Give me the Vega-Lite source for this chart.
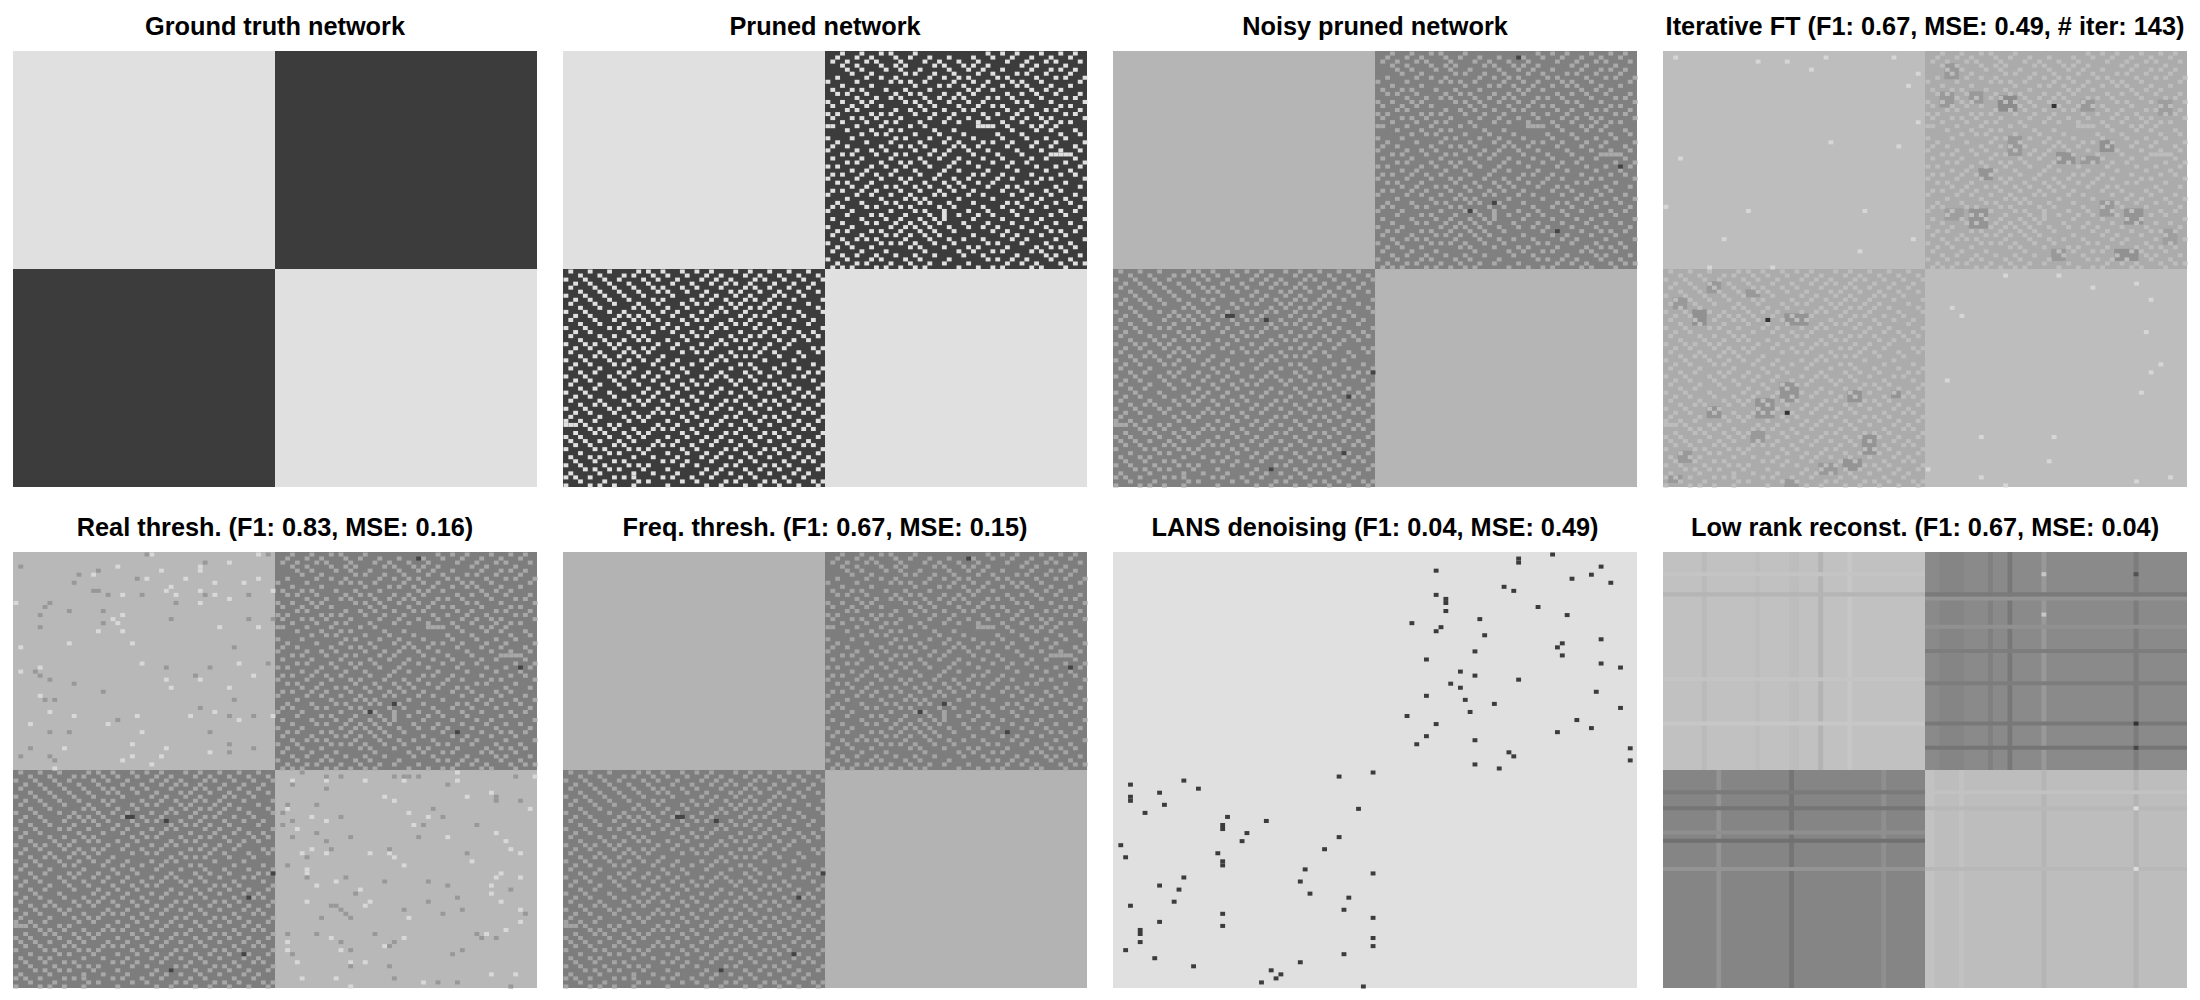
{"$schema":"https://vega.github.io/schema/vega-lite/v6.json","background":"white","padding":{"left":13,"top":14,"right":0,"bottom":0},"columns":4,"spacing":{"column":25,"row":27},"config":{"view":{"stroke":null},"title":{"font":"Liberation Sans","fontSize":25.3,"fontWeight":"bold","color":"#000000","anchor":"middle","offset":11}},
"datasets":{
"spots":[{"r":1,"c":83},{"r":28,"c":104},{"r":37,"c":78},{"r":39,"c":73},{"r":44,"c":91},{"r":65,"c":23},{"r":65,"c":24},{"r":66,"c":31},{"r":79,"c":53},{"r":85,"c":48},{"r":99,"c":47},{"r":103,"c":32}],
"lans":[{"c":83,"r":1},{"c":83,"r":2},{"c":90,"r":0},{"c":66,"r":4},{"c":100,"r":3},{"c":98,"r":5},{"c":94,"r":6},{"c":102,"r":7},{"c":80,"r":8},{"c":82,"r":9},{"c":66,"r":10},{"c":68,"r":11},{"c":68,"r":12},{"c":68,"r":14},{"c":87,"r":13},{"c":93,"r":15},{"c":75,"r":16},{"c":61,"r":17},{"c":67,"r":18},{"c":66,"r":19},{"c":76,"r":20},{"c":100,"r":21},{"c":92,"r":22},{"c":91,"r":23},{"c":74,"r":24},{"c":92,"r":25},{"c":64,"r":26},{"c":100,"r":27},{"c":104,"r":28},{"c":71,"r":29},{"c":74,"r":30},{"c":83,"r":31},{"c":69,"r":32},{"c":71,"r":33},{"c":99,"r":34},{"c":64,"r":35},{"c":72,"r":36},{"c":78,"r":37},{"c":104,"r":38},{"c":73,"r":39},{"c":60,"r":40},{"c":95,"r":41},{"c":66,"r":42},{"c":98,"r":43},{"c":91,"r":44},{"c":64,"r":45},{"c":74,"r":46},{"c":62,"r":47},{"c":106,"r":48},{"c":81,"r":49},{"c":82,"r":50},{"c":106,"r":51},{"c":74,"r":52},{"c":79,"r":53},{"c":53,"r":54},{"c":46,"r":55},{"c":14,"r":56},{"c":3,"r":57},{"c":17,"r":58},{"c":9,"r":59},{"c":3,"r":60},{"c":3,"r":61},{"c":10,"r":62},{"c":50,"r":63},{"c":6,"r":64},{"c":23,"r":65},{"c":31,"r":66},{"c":22,"r":67},{"c":22,"r":68},{"c":27,"r":69},{"c":46,"r":70},{"c":26,"r":71},{"c":1,"r":72},{"c":43,"r":73},{"c":21,"r":74},{"c":2,"r":75},{"c":22,"r":76},{"c":22,"r":77},{"c":39,"r":78},{"c":53,"r":79},{"c":14,"r":80},{"c":38,"r":81},{"c":9,"r":82},{"c":13,"r":83},{"c":40,"r":84},{"c":48,"r":85},{"c":12,"r":86},{"c":3,"r":87},{"c":47,"r":88},{"c":22,"r":89},{"c":53,"r":90},{"c":9,"r":91},{"c":22,"r":92},{"c":5,"r":93},{"c":5,"r":94},{"c":53,"r":95},{"c":5,"r":96},{"c":53,"r":97},{"c":2,"r":98},{"c":47,"r":99},{"c":8,"r":100},{"c":38,"r":101},{"c":16,"r":102},{"c":32,"r":103},{"c":34,"r":104},{"c":33,"r":105},{"c":30,"r":106},{"c":51,"r":107}],
"realLight":[{"r":0,"c":28},{"r":0,"c":50},{"r":2,"c":44},{"r":3,"c":21},{"r":3,"c":38},{"r":4,"c":30},{"r":4,"c":38},{"r":5,"c":16},{"r":6,"c":27},{"r":6,"c":35},{"r":6,"c":50},{"r":7,"c":41},{"r":7,"c":47},{"r":8,"c":32},{"r":9,"c":31},{"r":9,"c":38},{"r":9,"c":53},{"r":10,"c":22},{"r":10,"c":33},{"r":10,"c":41},{"r":11,"c":44},{"r":12,"c":38},{"r":12,"c":0},{"r":15,"c":22},{"r":16,"c":20},{"r":17,"c":21},{"r":18,"c":42},{"r":18,"c":50},{"r":19,"c":22},{"r":19,"c":17},{"r":22,"c":11},{"r":22,"c":24},{"r":23,"c":1},{"r":27,"c":26},{"r":27,"c":46},{"r":28,"c":5},{"r":29,"c":1},{"r":30,"c":49},{"r":31,"c":31},{"r":31,"c":38},{"r":33,"c":32},{"r":33,"c":44},{"r":35,"c":5},{"r":39,"c":7},{"r":39,"c":41},{"r":40,"c":12},{"r":40,"c":25},{"r":40,"c":36},{"r":40,"c":53},{"r":41,"c":46},{"r":42,"c":3},{"r":42,"c":19},{"r":44,"c":26},{"r":47,"c":24},{"r":48,"c":10},{"r":48,"c":31},{"r":49,"c":40},{"r":50,"c":24},{"r":50,"c":30},{"r":51,"c":22},{"r":52,"c":28},{"r":53,"c":8},{"r":54,"c":91},{"r":55,"c":107},{"r":56,"c":57},{"r":56,"c":64},{"r":56,"c":72},{"r":56,"c":80},{"r":56,"c":91},{"r":59,"c":98},{"r":60,"c":76},{"r":60,"c":93},{"r":61,"c":78},{"r":63,"c":56},{"r":63,"c":106},{"r":64,"c":81},{"r":65,"c":61},{"r":65,"c":85},{"r":66,"c":64},{"r":67,"c":82},{"r":68,"c":58},{"r":69,"c":99},{"r":70,"c":89},{"r":71,"c":101},{"r":73,"c":61},{"r":73,"c":102},{"r":74,"c":59},{"r":74,"c":64},{"r":74,"c":73},{"r":74,"c":77},{"r":74,"c":104},{"r":75,"c":78},{"r":76,"c":94},{"r":77,"c":80},{"r":78,"c":60},{"r":79,"c":60},{"r":79,"c":100},{"r":80,"c":99},{"r":80,"c":104},{"r":81,"c":66},{"r":82,"c":62},{"r":82,"c":98},{"r":83,"c":71},{"r":84,"c":98},{"r":86,"c":60},{"r":86,"c":73},{"r":86,"c":100},{"r":87,"c":72},{"r":88,"c":104},{"r":90,"c":81},{"r":91,"c":104},{"r":93,"c":101},{"r":94,"c":97},{"r":95,"c":65},{"r":95,"c":80},{"r":96,"c":56},{"r":97,"c":76},{"r":98,"c":56},{"r":98,"c":67},{"r":101,"c":58},{"r":101,"c":69},{"r":101,"c":72},{"r":104,"c":98},{"r":104,"c":103},{"r":105,"c":59},{"r":105,"c":66},{"r":106,"c":84},{"r":107,"c":69}],
"realDark":[{"r":0,"c":27},{"r":0,"c":52},{"r":2,"c":39},{"r":3,"c":1},{"r":4,"c":17},{"r":5,"c":13},{"r":6,"c":25},{"r":7,"c":12},{"r":9,"c":16},{"r":9,"c":17},{"r":10,"c":19},{"r":10,"c":26},{"r":10,"c":39},{"r":10,"c":48},{"r":12,"c":33},{"r":12,"c":7},{"r":13,"c":6},{"r":14,"c":11},{"r":14,"c":18},{"r":15,"c":5},{"r":16,"c":32},{"r":16,"c":48},{"r":16,"c":53},{"r":17,"c":18},{"r":18,"c":5},{"r":23,"c":45},{"r":27,"c":52},{"r":28,"c":31},{"r":28,"c":40},{"r":29,"c":4},{"r":30,"c":5},{"r":30,"c":37},{"r":31,"c":7},{"r":32,"c":12},{"r":34,"c":18},{"r":36,"c":6},{"r":36,"c":8},{"r":36,"c":45},{"r":38,"c":38},{"r":40,"c":44},{"r":40,"c":49},{"r":41,"c":21},{"r":44,"c":7},{"r":44,"c":11},{"r":44,"c":40},{"r":47,"c":44},{"r":48,"c":3},{"r":48,"c":49},{"r":49,"c":44},{"r":50,"c":1},{"r":50,"c":7},{"r":51,"c":8},{"r":54,"c":59},{"r":55,"c":64},{"r":55,"c":67},{"r":55,"c":78},{"r":55,"c":80},{"r":55,"c":81},{"r":55,"c":83},{"r":55,"c":103},{"r":57,"c":89},{"r":57,"c":57},{"r":58,"c":64},{"r":60,"c":99},{"r":61,"c":99},{"r":61,"c":104},{"r":62,"c":56},{"r":62,"c":62},{"r":63,"c":86},{"r":64,"c":55},{"r":65,"c":67},{"r":65,"c":88},{"r":66,"c":57},{"r":67,"c":55},{"r":67,"c":84},{"r":67,"c":95},{"r":69,"c":62},{"r":70,"c":57},{"r":70,"c":69},{"r":70,"c":83},{"r":71,"c":64},{"r":73,"c":65},{"r":73,"c":77},{"r":74,"c":93},{"r":75,"c":60},{"r":77,"c":56},{"r":80,"c":60},{"r":80,"c":68},{"r":81,"c":76},{"r":81,"c":85},{"r":82,"c":89},{"r":83,"c":102},{"r":84,"c":70},{"r":85,"c":91},{"r":86,"c":85},{"r":87,"c":65},{"r":87,"c":66},{"r":88,"c":67},{"r":88,"c":80},{"r":88,"c":92},{"r":89,"c":68},{"r":89,"c":88},{"r":89,"c":105},{"r":90,"c":63},{"r":90,"c":69},{"r":94,"c":56},{"r":94,"c":62},{"r":94,"c":74},{"r":94,"c":95},{"r":95,"c":96},{"r":95,"c":99},{"r":96,"c":67},{"r":96,"c":78},{"r":97,"c":77},{"r":98,"c":69},{"r":98,"c":92},{"r":99,"c":57},{"r":99,"c":90},{"r":102,"c":69},{"r":102,"c":77},{"r":105,"c":78},{"r":106,"c":87},{"r":106,"c":91},{"r":107,"c":102}],
"iterLight":[{"r":1,"c":2},{"r":1,"c":33},{"r":1,"c":47},{"r":2,"c":19},{"r":2,"c":25},{"r":4,"c":30},{"r":5,"c":52},{"r":8,"c":50},{"r":17,"c":52},{"r":22,"c":34},{"r":23,"c":48},{"r":26,"c":3},{"r":38,"c":0},{"r":39,"c":17},{"r":39,"c":41},{"r":46,"c":12},{"r":46,"c":51},{"r":49,"c":40},{"r":53,"c":9},{"r":53,"c":22},{"r":55,"c":70},{"r":55,"c":81},{"r":58,"c":88},{"r":57,"c":97},{"r":61,"c":100},{"r":63,"c":59},{"r":65,"c":61},{"r":69,"c":99},{"r":77,"c":102},{"r":79,"c":100},{"r":81,"c":58},{"r":84,"c":98},{"r":95,"c":65},{"r":95,"c":80},{"r":101,"c":79},{"r":103,"c":54},{"r":105,"c":104},{"r":105,"c":65},{"r":106,"c":97},{"r":107,"c":70}],
"iterDark":[{"r":66,"c":21},{"r":89,"c":25},{"r":13,"c":80}],
"lightCells":[{"r":0,"c":57},{"r":0,"c":61},{"r":0,"c":65},{"r":0,"c":67},{"r":0,"c":72},{"r":0,"c":87},{"r":0,"c":90},{"r":0,"c":93},{"r":0,"c":98},{"r":0,"c":102},{"r":0,"c":105},{"r":1,"c":56},{"r":1,"c":60},{"r":1,"c":63},{"r":1,"c":68},{"r":1,"c":71},{"r":1,"c":75},{"r":1,"c":79},{"r":1,"c":84},{"r":1,"c":88},{"r":1,"c":92},{"r":1,"c":96},{"r":1,"c":100},{"r":1,"c":104},{"r":2,"c":55},{"r":2,"c":58},{"r":2,"c":62},{"r":2,"c":64},{"r":2,"c":69},{"r":2,"c":74},{"r":2,"c":77},{"r":2,"c":81},{"r":2,"c":85},{"r":2,"c":91},{"r":2,"c":95},{"r":2,"c":99},{"r":2,"c":101},{"r":2,"c":106},{"r":3,"c":57},{"r":3,"c":60},{"r":3,"c":65},{"r":3,"c":68},{"r":3,"c":70},{"r":3,"c":76},{"r":3,"c":78},{"r":3,"c":82},{"r":3,"c":84},{"r":3,"c":87},{"r":3,"c":94},{"r":3,"c":97},{"r":3,"c":103},{"r":4,"c":58},{"r":4,"c":61},{"r":4,"c":66},{"r":4,"c":69},{"r":4,"c":73},{"r":4,"c":79},{"r":4,"c":83},{"r":4,"c":86},{"r":4,"c":90},{"r":4,"c":96},{"r":4,"c":100},{"r":4,"c":102},{"r":4,"c":105},{"r":5,"c":59},{"r":5,"c":63},{"r":5,"c":70},{"r":5,"c":72},{"r":5,"c":76},{"r":5,"c":80},{"r":5,"c":85},{"r":5,"c":88},{"r":5,"c":93},{"r":5,"c":95},{"r":5,"c":99},{"r":5,"c":104},{"r":6,"c":56},{"r":6,"c":62},{"r":6,"c":65},{"r":6,"c":68},{"r":6,"c":75},{"r":6,"c":78},{"r":6,"c":81},{"r":6,"c":83},{"r":6,"c":89},{"r":6,"c":91},{"r":6,"c":97},{"r":6,"c":101},{"r":6,"c":103},{"r":6,"c":107},{"r":7,"c":54},{"r":7,"c":60},{"r":7,"c":67},{"r":7,"c":69},{"r":7,"c":71},{"r":7,"c":74},{"r":7,"c":80},{"r":7,"c":84},{"r":7,"c":87},{"r":7,"c":92},{"r":7,"c":94},{"r":7,"c":98},{"r":7,"c":106},{"r":8,"c":57},{"r":8,"c":63},{"r":8,"c":72},{"r":8,"c":77},{"r":8,"c":79},{"r":8,"c":82},{"r":8,"c":86},{"r":8,"c":90},{"r":8,"c":93},{"r":8,"c":95},{"r":8,"c":100},{"r":8,"c":104},{"r":9,"c":55},{"r":9,"c":59},{"r":9,"c":61},{"r":9,"c":66},{"r":9,"c":70},{"r":9,"c":75},{"r":9,"c":83},{"r":9,"c":85},{"r":9,"c":88},{"r":9,"c":96},{"r":9,"c":99},{"r":9,"c":102},{"r":10,"c":56},{"r":10,"c":58},{"r":10,"c":62},{"r":10,"c":68},{"r":10,"c":71},{"r":10,"c":73},{"r":10,"c":78},{"r":10,"c":81},{"r":10,"c":84},{"r":10,"c":91},{"r":10,"c":94},{"r":10,"c":97},{"r":10,"c":101},{"r":10,"c":106},{"r":11,"c":60},{"r":11,"c":64},{"r":11,"c":67},{"r":11,"c":69},{"r":11,"c":74},{"r":11,"c":77},{"r":11,"c":80},{"r":11,"c":82},{"r":11,"c":87},{"r":11,"c":89},{"r":11,"c":92},{"r":11,"c":98},{"r":11,"c":103},{"r":11,"c":105},{"r":12,"c":54},{"r":12,"c":57},{"r":12,"c":61},{"r":12,"c":63},{"r":12,"c":70},{"r":12,"c":72},{"r":12,"c":75},{"r":12,"c":79},{"r":12,"c":83},{"r":12,"c":86},{"r":12,"c":93},{"r":12,"c":95},{"r":12,"c":100},{"r":12,"c":107},{"r":13,"c":55},{"r":13,"c":59},{"r":13,"c":62},{"r":13,"c":65},{"r":13,"c":73},{"r":13,"c":76},{"r":13,"c":81},{"r":13,"c":85},{"r":13,"c":88},{"r":13,"c":90},{"r":13,"c":96},{"r":13,"c":102},{"r":13,"c":104},{"r":14,"c":58},{"r":14,"c":60},{"r":14,"c":68},{"r":14,"c":71},{"r":14,"c":74},{"r":14,"c":78},{"r":14,"c":82},{"r":14,"c":84},{"r":14,"c":91},{"r":14,"c":94},{"r":14,"c":99},{"r":14,"c":101},{"r":14,"c":106},{"r":15,"c":54},{"r":15,"c":56},{"r":15,"c":63},{"r":15,"c":65},{"r":15,"c":67},{"r":15,"c":72},{"r":15,"c":76},{"r":15,"c":80},{"r":15,"c":86},{"r":15,"c":89},{"r":15,"c":93},{"r":15,"c":97},{"r":15,"c":103},{"r":15,"c":105},{"r":16,"c":55},{"r":16,"c":59},{"r":16,"c":61},{"r":16,"c":64},{"r":16,"c":69},{"r":16,"c":75},{"r":16,"c":79},{"r":16,"c":83},{"r":16,"c":87},{"r":16,"c":92},{"r":16,"c":95},{"r":16,"c":98},{"r":16,"c":100},{"r":16,"c":107},{"r":17,"c":57},{"r":17,"c":62},{"r":17,"c":66},{"r":17,"c":68},{"r":17,"c":73},{"r":17,"c":78},{"r":17,"c":81},{"r":17,"c":85},{"r":17,"c":90},{"r":17,"c":94},{"r":17,"c":99},{"r":17,"c":102},{"r":17,"c":104},{"r":18,"c":54},{"r":18,"c":55},{"r":18,"c":60},{"r":18,"c":65},{"r":18,"c":71},{"r":18,"c":74},{"r":18,"c":85},{"r":18,"c":86},{"r":18,"c":87},{"r":18,"c":88},{"r":18,"c":91},{"r":18,"c":96},{"r":18,"c":98},{"r":18,"c":101},{"r":19,"c":58},{"r":19,"c":63},{"r":19,"c":67},{"r":19,"c":69},{"r":19,"c":76},{"r":19,"c":80},{"r":19,"c":92},{"r":19,"c":97},{"r":19,"c":100},{"r":19,"c":105},{"r":20,"c":61},{"r":20,"c":64},{"r":20,"c":66},{"r":20,"c":72},{"r":20,"c":77},{"r":20,"c":82},{"r":20,"c":89},{"r":20,"c":94},{"r":20,"c":102},{"r":20,"c":106},{"r":21,"c":54},{"r":21,"c":59},{"r":21,"c":68},{"r":21,"c":70},{"r":21,"c":75},{"r":21,"c":79},{"r":21,"c":84},{"r":21,"c":90},{"r":21,"c":95},{"r":21,"c":99},{"r":21,"c":103},{"r":22,"c":56},{"r":22,"c":62},{"r":22,"c":67},{"r":22,"c":73},{"r":22,"c":78},{"r":22,"c":81},{"r":22,"c":86},{"r":22,"c":88},{"r":22,"c":92},{"r":22,"c":97},{"r":22,"c":101},{"r":22,"c":107},{"r":23,"c":55},{"r":23,"c":58},{"r":23,"c":65},{"r":23,"c":69},{"r":23,"c":71},{"r":23,"c":74},{"r":23,"c":80},{"r":23,"c":82},{"r":23,"c":85},{"r":23,"c":91},{"r":23,"c":96},{"r":23,"c":100},{"r":23,"c":105},{"r":24,"c":54},{"r":24,"c":60},{"r":24,"c":63},{"r":24,"c":66},{"r":24,"c":72},{"r":24,"c":76},{"r":24,"c":79},{"r":24,"c":83},{"r":24,"c":87},{"r":24,"c":93},{"r":24,"c":98},{"r":24,"c":102},{"r":24,"c":106},{"r":25,"c":57},{"r":25,"c":59},{"r":25,"c":64},{"r":25,"c":68},{"r":25,"c":70},{"r":25,"c":75},{"r":25,"c":78},{"r":25,"c":84},{"r":25,"c":89},{"r":25,"c":94},{"r":25,"c":100},{"r":25,"c":101},{"r":25,"c":102},{"r":25,"c":103},{"r":25,"c":104},{"r":26,"c":55},{"r":26,"c":61},{"r":26,"c":67},{"r":26,"c":73},{"r":26,"c":77},{"r":26,"c":81},{"r":26,"c":86},{"r":26,"c":90},{"r":26,"c":96},{"r":26,"c":99},{"r":26,"c":105},{"r":27,"c":58},{"r":27,"c":60},{"r":27,"c":65},{"r":27,"c":69},{"r":27,"c":71},{"r":27,"c":74},{"r":27,"c":80},{"r":27,"c":83},{"r":27,"c":88},{"r":27,"c":92},{"r":27,"c":95},{"r":27,"c":103},{"r":27,"c":107},{"r":28,"c":54},{"r":28,"c":56},{"r":28,"c":63},{"r":28,"c":66},{"r":28,"c":70},{"r":28,"c":75},{"r":28,"c":79},{"r":28,"c":85},{"r":28,"c":91},{"r":28,"c":97},{"r":28,"c":101},{"r":28,"c":106},{"r":29,"c":59},{"r":29,"c":62},{"r":29,"c":68},{"r":29,"c":72},{"r":29,"c":78},{"r":29,"c":81},{"r":29,"c":87},{"r":29,"c":93},{"r":29,"c":99},{"r":29,"c":104},{"r":30,"c":55},{"r":30,"c":57},{"r":30,"c":61},{"r":30,"c":64},{"r":30,"c":67},{"r":30,"c":73},{"r":30,"c":77},{"r":30,"c":84},{"r":30,"c":86},{"r":30,"c":90},{"r":30,"c":96},{"r":30,"c":102},{"r":30,"c":105},{"r":31,"c":54},{"r":31,"c":60},{"r":31,"c":65},{"r":31,"c":69},{"r":31,"c":71},{"r":31,"c":76},{"r":31,"c":80},{"r":31,"c":83},{"r":31,"c":89},{"r":31,"c":92},{"r":31,"c":98},{"r":31,"c":100},{"r":31,"c":107},{"r":32,"c":56},{"r":32,"c":58},{"r":32,"c":63},{"r":32,"c":70},{"r":32,"c":74},{"r":32,"c":78},{"r":32,"c":81},{"r":32,"c":85},{"r":32,"c":88},{"r":32,"c":95},{"r":32,"c":97},{"r":32,"c":103},{"r":33,"c":59},{"r":33,"c":62},{"r":33,"c":66},{"r":33,"c":68},{"r":33,"c":72},{"r":33,"c":75},{"r":33,"c":79},{"r":33,"c":82},{"r":33,"c":87},{"r":33,"c":91},{"r":33,"c":93},{"r":33,"c":101},{"r":33,"c":106},{"r":34,"c":55},{"r":34,"c":57},{"r":34,"c":61},{"r":34,"c":64},{"r":34,"c":69},{"r":34,"c":73},{"r":34,"c":77},{"r":34,"c":80},{"r":34,"c":84},{"r":34,"c":90},{"r":34,"c":94},{"r":34,"c":99},{"r":34,"c":102},{"r":35,"c":54},{"r":35,"c":60},{"r":35,"c":63},{"r":35,"c":67},{"r":35,"c":71},{"r":35,"c":76},{"r":35,"c":78},{"r":35,"c":83},{"r":35,"c":86},{"r":35,"c":92},{"r":35,"c":96},{"r":35,"c":100},{"r":35,"c":105},{"r":36,"c":58},{"r":36,"c":65},{"r":36,"c":70},{"r":36,"c":72},{"r":36,"c":74},{"r":36,"c":81},{"r":36,"c":88},{"r":36,"c":95},{"r":36,"c":98},{"r":36,"c":103},{"r":36,"c":107},{"r":37,"c":56},{"r":37,"c":61},{"r":37,"c":66},{"r":37,"c":68},{"r":37,"c":73},{"r":37,"c":75},{"r":37,"c":79},{"r":37,"c":84},{"r":37,"c":91},{"r":37,"c":93},{"r":37,"c":97},{"r":37,"c":101},{"r":37,"c":104},{"r":38,"c":55},{"r":38,"c":57},{"r":38,"c":62},{"r":38,"c":64},{"r":38,"c":69},{"r":38,"c":71},{"r":38,"c":77},{"r":38,"c":80},{"r":38,"c":86},{"r":38,"c":90},{"r":38,"c":94},{"r":38,"c":99},{"r":38,"c":106},{"r":39,"c":54},{"r":39,"c":59},{"r":39,"c":67},{"r":39,"c":72},{"r":39,"c":74},{"r":39,"c":78},{"r":39,"c":83},{"r":39,"c":87},{"r":39,"c":92},{"r":39,"c":96},{"r":39,"c":102},{"r":39,"c":105},{"r":40,"c":58},{"r":40,"c":63},{"r":40,"c":65},{"r":40,"c":70},{"r":40,"c":75},{"r":40,"c":78},{"r":40,"c":81},{"r":40,"c":85},{"r":40,"c":88},{"r":40,"c":93},{"r":40,"c":100},{"r":40,"c":103},{"r":41,"c":55},{"r":41,"c":61},{"r":41,"c":66},{"r":41,"c":69},{"r":41,"c":73},{"r":41,"c":76},{"r":41,"c":78},{"r":41,"c":84},{"r":41,"c":90},{"r":41,"c":95},{"r":41,"c":98},{"r":41,"c":107},{"r":42,"c":57},{"r":42,"c":62},{"r":42,"c":64},{"r":42,"c":68},{"r":42,"c":71},{"r":42,"c":74},{"r":42,"c":77},{"r":42,"c":82},{"r":42,"c":87},{"r":42,"c":92},{"r":42,"c":97},{"r":42,"c":101},{"r":42,"c":104},{"r":43,"c":54},{"r":43,"c":59},{"r":43,"c":67},{"r":43,"c":70},{"r":43,"c":72},{"r":43,"c":75},{"r":43,"c":79},{"r":43,"c":83},{"r":43,"c":86},{"r":43,"c":89},{"r":43,"c":94},{"r":43,"c":99},{"r":43,"c":106},{"r":44,"c":56},{"r":44,"c":58},{"r":44,"c":63},{"r":44,"c":65},{"r":44,"c":69},{"r":44,"c":73},{"r":44,"c":76},{"r":44,"c":80},{"r":44,"c":88},{"r":44,"c":91},{"r":44,"c":96},{"r":44,"c":100},{"r":44,"c":102},{"r":44,"c":105},{"r":45,"c":55},{"r":45,"c":61},{"r":45,"c":66},{"r":45,"c":68},{"r":45,"c":71},{"r":45,"c":74},{"r":45,"c":77},{"r":45,"c":84},{"r":45,"c":90},{"r":45,"c":93},{"r":45,"c":98},{"r":45,"c":103},{"r":46,"c":57},{"r":46,"c":60},{"r":46,"c":62},{"r":46,"c":64},{"r":46,"c":70},{"r":46,"c":75},{"r":46,"c":79},{"r":46,"c":82},{"r":46,"c":86},{"r":46,"c":92},{"r":46,"c":95},{"r":46,"c":101},{"r":46,"c":107},{"r":47,"c":54},{"r":47,"c":58},{"r":47,"c":65},{"r":47,"c":67},{"r":47,"c":69},{"r":47,"c":72},{"r":47,"c":76},{"r":47,"c":80},{"r":47,"c":87},{"r":47,"c":89},{"r":47,"c":94},{"r":47,"c":99},{"r":47,"c":104},{"r":48,"c":56},{"r":48,"c":59},{"r":48,"c":63},{"r":48,"c":71},{"r":48,"c":73},{"r":48,"c":78},{"r":48,"c":83},{"r":48,"c":85},{"r":48,"c":91},{"r":48,"c":97},{"r":48,"c":100},{"r":48,"c":102},{"r":48,"c":105},{"r":49,"c":55},{"r":49,"c":61},{"r":49,"c":66},{"r":49,"c":74},{"r":49,"c":81},{"r":49,"c":84},{"r":49,"c":88},{"r":49,"c":90},{"r":49,"c":96},{"r":49,"c":98},{"r":49,"c":103},{"r":50,"c":57},{"r":50,"c":60},{"r":50,"c":64},{"r":50,"c":68},{"r":50,"c":72},{"r":50,"c":76},{"r":50,"c":82},{"r":50,"c":86},{"r":50,"c":93},{"r":50,"c":99},{"r":50,"c":101},{"r":50,"c":106},{"r":51,"c":54},{"r":51,"c":58},{"r":51,"c":63},{"r":51,"c":65},{"r":51,"c":70},{"r":51,"c":73},{"r":51,"c":79},{"r":51,"c":87},{"r":51,"c":89},{"r":51,"c":92},{"r":51,"c":95},{"r":51,"c":100},{"r":51,"c":104},{"r":52,"c":56},{"r":52,"c":60},{"r":52,"c":62},{"r":52,"c":67},{"r":52,"c":71},{"r":52,"c":75},{"r":52,"c":78},{"r":52,"c":83},{"r":52,"c":91},{"r":52,"c":94},{"r":52,"c":97},{"r":52,"c":102},{"r":52,"c":105},{"r":52,"c":107},{"r":53,"c":55},{"r":53,"c":57},{"r":53,"c":59},{"r":53,"c":64},{"r":53,"c":66},{"r":53,"c":69},{"r":53,"c":72},{"r":53,"c":74},{"r":53,"c":81},{"r":53,"c":85},{"r":53,"c":88},{"r":53,"c":90},{"r":53,"c":96},{"r":53,"c":98},{"r":53,"c":103},{"r":54,"c":1},{"r":54,"c":5},{"r":54,"c":9},{"r":54,"c":15},{"r":54,"c":17},{"r":54,"c":20},{"r":54,"c":24},{"r":54,"c":27},{"r":54,"c":30},{"r":54,"c":35},{"r":54,"c":38},{"r":54,"c":42},{"r":54,"c":46},{"r":54,"c":50},{"r":55,"c":3},{"r":55,"c":7},{"r":55,"c":12},{"r":55,"c":14},{"r":55,"c":18},{"r":55,"c":21},{"r":55,"c":25},{"r":55,"c":29},{"r":55,"c":32},{"r":55,"c":37},{"r":55,"c":40},{"r":55,"c":44},{"r":55,"c":48},{"r":55,"c":52},{"r":56,"c":0},{"r":56,"c":4},{"r":56,"c":8},{"r":56,"c":11},{"r":56,"c":16},{"r":56,"c":19},{"r":56,"c":23},{"r":56,"c":28},{"r":56,"c":31},{"r":56,"c":34},{"r":56,"c":39},{"r":56,"c":41},{"r":56,"c":45},{"r":56,"c":49},{"r":56,"c":53},{"r":57,"c":2},{"r":57,"c":5},{"r":57,"c":9},{"r":57,"c":13},{"r":57,"c":17},{"r":57,"c":22},{"r":57,"c":26},{"r":57,"c":30},{"r":57,"c":33},{"r":57,"c":35},{"r":57,"c":38},{"r":57,"c":43},{"r":57,"c":47},{"r":57,"c":51},{"r":58,"c":1},{"r":58,"c":6},{"r":58,"c":10},{"r":58,"c":14},{"r":58,"c":18},{"r":58,"c":20},{"r":58,"c":24},{"r":58,"c":27},{"r":58,"c":32},{"r":58,"c":37},{"r":58,"c":39},{"r":58,"c":42},{"r":58,"c":46},{"r":58,"c":50},{"r":59,"c":3},{"r":59,"c":7},{"r":59,"c":11},{"r":59,"c":15},{"r":59,"c":19},{"r":59,"c":21},{"r":59,"c":25},{"r":59,"c":29},{"r":59,"c":34},{"r":59,"c":36},{"r":59,"c":40},{"r":59,"c":44},{"r":59,"c":48},{"r":59,"c":52},{"r":60,"c":0},{"r":60,"c":4},{"r":60,"c":8},{"r":60,"c":12},{"r":60,"c":16},{"r":60,"c":22},{"r":60,"c":28},{"r":60,"c":31},{"r":60,"c":35},{"r":60,"c":38},{"r":60,"c":43},{"r":60,"c":45},{"r":60,"c":49},{"r":61,"c":2},{"r":61,"c":5},{"r":61,"c":9},{"r":61,"c":13},{"r":61,"c":18},{"r":61,"c":20},{"r":61,"c":26},{"r":61,"c":30},{"r":61,"c":33},{"r":61,"c":37},{"r":61,"c":39},{"r":61,"c":42},{"r":61,"c":47},{"r":61,"c":53},{"r":62,"c":1},{"r":62,"c":6},{"r":62,"c":10},{"r":62,"c":15},{"r":62,"c":19},{"r":62,"c":24},{"r":62,"c":27},{"r":62,"c":29},{"r":62,"c":34},{"r":62,"c":36},{"r":62,"c":41},{"r":62,"c":44},{"r":62,"c":50},{"r":63,"c":3},{"r":63,"c":7},{"r":63,"c":14},{"r":63,"c":16},{"r":63,"c":21},{"r":63,"c":25},{"r":63,"c":32},{"r":63,"c":35},{"r":63,"c":38},{"r":63,"c":40},{"r":63,"c":43},{"r":63,"c":46},{"r":63,"c":52},{"r":64,"c":0},{"r":64,"c":4},{"r":64,"c":9},{"r":64,"c":12},{"r":64,"c":17},{"r":64,"c":20},{"r":64,"c":23},{"r":64,"c":28},{"r":64,"c":31},{"r":64,"c":33},{"r":64,"c":37},{"r":64,"c":42},{"r":64,"c":48},{"r":64,"c":53},{"r":65,"c":2},{"r":65,"c":5},{"r":65,"c":11},{"r":65,"c":13},{"r":65,"c":15},{"r":65,"c":18},{"r":65,"c":22},{"r":65,"c":26},{"r":65,"c":30},{"r":65,"c":36},{"r":65,"c":39},{"r":65,"c":41},{"r":65,"c":45},{"r":65,"c":49},{"r":66,"c":1},{"r":66,"c":6},{"r":66,"c":10},{"r":66,"c":14},{"r":66,"c":16},{"r":66,"c":19},{"r":66,"c":24},{"r":66,"c":27},{"r":66,"c":29},{"r":66,"c":34},{"r":66,"c":38},{"r":66,"c":43},{"r":66,"c":47},{"r":66,"c":51},{"r":67,"c":3},{"r":67,"c":7},{"r":67,"c":12},{"r":67,"c":17},{"r":67,"c":21},{"r":67,"c":25},{"r":67,"c":32},{"r":67,"c":35},{"r":67,"c":37},{"r":67,"c":40},{"r":67,"c":44},{"r":67,"c":50},{"r":68,"c":0},{"r":68,"c":4},{"r":68,"c":9},{"r":68,"c":11},{"r":68,"c":15},{"r":68,"c":20},{"r":68,"c":23},{"r":68,"c":28},{"r":68,"c":31},{"r":68,"c":33},{"r":68,"c":39},{"r":68,"c":42},{"r":68,"c":46},{"r":68,"c":53},{"r":69,"c":2},{"r":69,"c":5},{"r":69,"c":13},{"r":69,"c":18},{"r":69,"c":22},{"r":69,"c":26},{"r":69,"c":30},{"r":69,"c":36},{"r":69,"c":41},{"r":69,"c":45},{"r":69,"c":48},{"r":69,"c":51},{"r":70,"c":1},{"r":70,"c":7},{"r":70,"c":10},{"r":70,"c":14},{"r":70,"c":16},{"r":70,"c":24},{"r":70,"c":27},{"r":70,"c":29},{"r":70,"c":34},{"r":70,"c":38},{"r":70,"c":40},{"r":70,"c":43},{"r":70,"c":49},{"r":70,"c":52},{"r":71,"c":3},{"r":71,"c":8},{"r":71,"c":12},{"r":71,"c":15},{"r":71,"c":17},{"r":71,"c":21},{"r":71,"c":25},{"r":71,"c":32},{"r":71,"c":35},{"r":71,"c":37},{"r":71,"c":44},{"r":71,"c":47},{"r":71,"c":50},{"r":72,"c":0},{"r":72,"c":4},{"r":72,"c":6},{"r":72,"c":9},{"r":72,"c":11},{"r":72,"c":19},{"r":72,"c":23},{"r":72,"c":28},{"r":72,"c":31},{"r":72,"c":33},{"r":72,"c":39},{"r":72,"c":42},{"r":72,"c":46},{"r":73,"c":2},{"r":73,"c":5},{"r":73,"c":10},{"r":73,"c":13},{"r":73,"c":16},{"r":73,"c":18},{"r":73,"c":22},{"r":73,"c":26},{"r":73,"c":30},{"r":73,"c":36},{"r":73,"c":38},{"r":73,"c":41},{"r":73,"c":45},{"r":73,"c":51},{"r":73,"c":53},{"r":74,"c":1},{"r":74,"c":7},{"r":74,"c":12},{"r":74,"c":14},{"r":74,"c":17},{"r":74,"c":24},{"r":74,"c":27},{"r":74,"c":29},{"r":74,"c":34},{"r":74,"c":40},{"r":74,"c":43},{"r":74,"c":48},{"r":74,"c":52},{"r":75,"c":3},{"r":75,"c":6},{"r":75,"c":8},{"r":75,"c":11},{"r":75,"c":15},{"r":75,"c":20},{"r":75,"c":32},{"r":75,"c":35},{"r":75,"c":37},{"r":75,"c":39},{"r":75,"c":44},{"r":75,"c":49},{"r":76,"c":0},{"r":76,"c":4},{"r":76,"c":9},{"r":76,"c":13},{"r":76,"c":16},{"r":76,"c":19},{"r":76,"c":23},{"r":76,"c":28},{"r":76,"c":31},{"r":76,"c":33},{"r":76,"c":41},{"r":76,"c":47},{"r":77,"c":2},{"r":77,"c":5},{"r":77,"c":10},{"r":77,"c":12},{"r":77,"c":18},{"r":77,"c":22},{"r":77,"c":26},{"r":77,"c":30},{"r":77,"c":36},{"r":77,"c":38},{"r":77,"c":45},{"r":77,"c":51},{"r":78,"c":1},{"r":78,"c":7},{"r":78,"c":14},{"r":78,"c":20},{"r":78,"c":24},{"r":78,"c":29},{"r":78,"c":34},{"r":78,"c":39},{"r":78,"c":43},{"r":78,"c":48},{"r":78,"c":53},{"r":79,"c":3},{"r":79,"c":6},{"r":79,"c":11},{"r":79,"c":13},{"r":79,"c":17},{"r":79,"c":21},{"r":79,"c":25},{"r":79,"c":32},{"r":79,"c":37},{"r":79,"c":40},{"r":79,"c":44},{"r":79,"c":50},{"r":79,"c":52},{"r":80,"c":0},{"r":80,"c":4},{"r":80,"c":9},{"r":80,"c":12},{"r":80,"c":16},{"r":80,"c":19},{"r":80,"c":23},{"r":80,"c":28},{"r":80,"c":31},{"r":80,"c":33},{"r":80,"c":38},{"r":80,"c":42},{"r":80,"c":47},{"r":80,"c":49},{"r":81,"c":2},{"r":81,"c":5},{"r":81,"c":10},{"r":81,"c":14},{"r":81,"c":18},{"r":81,"c":22},{"r":81,"c":26},{"r":81,"c":30},{"r":81,"c":34},{"r":81,"c":36},{"r":81,"c":39},{"r":81,"c":45},{"r":81,"c":51},{"r":82,"c":1},{"r":82,"c":7},{"r":82,"c":11},{"r":82,"c":15},{"r":82,"c":20},{"r":82,"c":24},{"r":82,"c":27},{"r":82,"c":29},{"r":82,"c":35},{"r":82,"c":41},{"r":82,"c":43},{"r":82,"c":46},{"r":82,"c":53},{"r":83,"c":3},{"r":83,"c":6},{"r":83,"c":12},{"r":83,"c":17},{"r":83,"c":21},{"r":83,"c":25},{"r":83,"c":32},{"r":83,"c":37},{"r":83,"c":40},{"r":83,"c":44},{"r":83,"c":48},{"r":83,"c":52},{"r":84,"c":0},{"r":84,"c":4},{"r":84,"c":9},{"r":84,"c":16},{"r":84,"c":19},{"r":84,"c":23},{"r":84,"c":28},{"r":84,"c":31},{"r":84,"c":34},{"r":84,"c":38},{"r":84,"c":42},{"r":84,"c":47},{"r":84,"c":50},{"r":85,"c":2},{"r":85,"c":5},{"r":85,"c":10},{"r":85,"c":14},{"r":85,"c":18},{"r":85,"c":22},{"r":85,"c":26},{"r":85,"c":30},{"r":85,"c":36},{"r":85,"c":39},{"r":85,"c":45},{"r":85,"c":49},{"r":85,"c":51},{"r":86,"c":1},{"r":86,"c":7},{"r":86,"c":12},{"r":86,"c":15},{"r":86,"c":17},{"r":86,"c":20},{"r":86,"c":24},{"r":86,"c":27},{"r":86,"c":33},{"r":86,"c":35},{"r":86,"c":41},{"r":86,"c":43},{"r":86,"c":46},{"r":86,"c":53},{"r":87,"c":3},{"r":87,"c":6},{"r":87,"c":8},{"r":87,"c":13},{"r":87,"c":16},{"r":87,"c":21},{"r":87,"c":25},{"r":87,"c":29},{"r":87,"c":32},{"r":87,"c":37},{"r":87,"c":40},{"r":87,"c":44},{"r":87,"c":48},{"r":87,"c":52},{"r":88,"c":0},{"r":88,"c":4},{"r":88,"c":9},{"r":88,"c":11},{"r":88,"c":19},{"r":88,"c":23},{"r":88,"c":28},{"r":88,"c":31},{"r":88,"c":34},{"r":88,"c":38},{"r":88,"c":42},{"r":88,"c":47},{"r":88,"c":50},{"r":89,"c":2},{"r":89,"c":5},{"r":89,"c":10},{"r":89,"c":14},{"r":89,"c":18},{"r":89,"c":20},{"r":89,"c":22},{"r":89,"c":26},{"r":89,"c":30},{"r":89,"c":36},{"r":89,"c":39},{"r":89,"c":45},{"r":89,"c":49},{"r":89,"c":51},{"r":90,"c":1},{"r":90,"c":7},{"r":90,"c":12},{"r":90,"c":15},{"r":90,"c":17},{"r":90,"c":24},{"r":90,"c":27},{"r":90,"c":33},{"r":90,"c":35},{"r":90,"c":41},{"r":90,"c":43},{"r":90,"c":46},{"r":90,"c":53},{"r":91,"c":0},{"r":91,"c":3},{"r":91,"c":6},{"r":91,"c":13},{"r":91,"c":16},{"r":91,"c":21},{"r":91,"c":25},{"r":91,"c":29},{"r":91,"c":32},{"r":91,"c":37},{"r":91,"c":40},{"r":91,"c":44},{"r":91,"c":48},{"r":91,"c":52},{"r":92,"c":0},{"r":92,"c":1},{"r":92,"c":2},{"r":92,"c":4},{"r":92,"c":9},{"r":92,"c":11},{"r":92,"c":19},{"r":92,"c":23},{"r":92,"c":28},{"r":92,"c":31},{"r":92,"c":34},{"r":92,"c":38},{"r":92,"c":42},{"r":92,"c":47},{"r":92,"c":50},{"r":93,"c":5},{"r":93,"c":7},{"r":93,"c":10},{"r":93,"c":14},{"r":93,"c":18},{"r":93,"c":20},{"r":93,"c":22},{"r":93,"c":26},{"r":93,"c":30},{"r":93,"c":36},{"r":93,"c":39},{"r":93,"c":45},{"r":93,"c":49},{"r":93,"c":51},{"r":94,"c":2},{"r":94,"c":6},{"r":94,"c":8},{"r":94,"c":12},{"r":94,"c":15},{"r":94,"c":17},{"r":94,"c":24},{"r":94,"c":27},{"r":94,"c":33},{"r":94,"c":35},{"r":94,"c":41},{"r":94,"c":43},{"r":94,"c":46},{"r":94,"c":53},{"r":95,"c":0},{"r":95,"c":3},{"r":95,"c":9},{"r":95,"c":13},{"r":95,"c":16},{"r":95,"c":21},{"r":95,"c":25},{"r":95,"c":29},{"r":95,"c":32},{"r":95,"c":37},{"r":95,"c":40},{"r":95,"c":44},{"r":95,"c":48},{"r":95,"c":52},{"r":96,"c":1},{"r":96,"c":4},{"r":96,"c":7},{"r":96,"c":11},{"r":96,"c":14},{"r":96,"c":19},{"r":96,"c":23},{"r":96,"c":28},{"r":96,"c":31},{"r":96,"c":34},{"r":96,"c":38},{"r":96,"c":42},{"r":96,"c":47},{"r":96,"c":50},{"r":97,"c":2},{"r":97,"c":5},{"r":97,"c":10},{"r":97,"c":12},{"r":97,"c":18},{"r":97,"c":20},{"r":97,"c":22},{"r":97,"c":26},{"r":97,"c":30},{"r":97,"c":36},{"r":97,"c":39},{"r":97,"c":45},{"r":97,"c":49},{"r":97,"c":51},{"r":98,"c":0},{"r":98,"c":6},{"r":98,"c":8},{"r":98,"c":13},{"r":98,"c":15},{"r":98,"c":17},{"r":98,"c":24},{"r":98,"c":27},{"r":98,"c":33},{"r":98,"c":35},{"r":98,"c":41},{"r":98,"c":43},{"r":98,"c":46},{"r":98,"c":53},{"r":99,"c":3},{"r":99,"c":9},{"r":99,"c":11},{"r":99,"c":16},{"r":99,"c":21},{"r":99,"c":25},{"r":99,"c":29},{"r":99,"c":32},{"r":99,"c":37},{"r":99,"c":40},{"r":99,"c":44},{"r":99,"c":48},{"r":99,"c":52},{"r":100,"c":1},{"r":100,"c":5},{"r":100,"c":7},{"r":100,"c":14},{"r":100,"c":18},{"r":100,"c":23},{"r":100,"c":28},{"r":100,"c":31},{"r":100,"c":34},{"r":100,"c":38},{"r":100,"c":42},{"r":100,"c":47},{"r":100,"c":50},{"r":101,"c":2},{"r":101,"c":6},{"r":101,"c":10},{"r":101,"c":12},{"r":101,"c":20},{"r":101,"c":22},{"r":101,"c":25},{"r":101,"c":30},{"r":101,"c":36},{"r":101,"c":39},{"r":101,"c":45},{"r":101,"c":49},{"r":101,"c":51},{"r":102,"c":0},{"r":102,"c":3},{"r":102,"c":8},{"r":102,"c":13},{"r":102,"c":15},{"r":102,"c":17},{"r":102,"c":24},{"r":102,"c":27},{"r":102,"c":33},{"r":102,"c":35},{"r":102,"c":41},{"r":102,"c":43},{"r":102,"c":46},{"r":102,"c":53},{"r":103,"c":4},{"r":103,"c":6},{"r":103,"c":9},{"r":103,"c":11},{"r":103,"c":16},{"r":103,"c":21},{"r":103,"c":29},{"r":103,"c":32},{"r":103,"c":37},{"r":103,"c":40},{"r":103,"c":44},{"r":103,"c":48},{"r":103,"c":52},{"r":104,"c":1},{"r":104,"c":7},{"r":104,"c":14},{"r":104,"c":18},{"r":104,"c":23},{"r":104,"c":28},{"r":104,"c":31},{"r":104,"c":34},{"r":104,"c":38},{"r":104,"c":42},{"r":104,"c":47},{"r":104,"c":50},{"r":105,"c":0},{"r":105,"c":2},{"r":105,"c":5},{"r":105,"c":10},{"r":105,"c":12},{"r":105,"c":14},{"r":105,"c":20},{"r":105,"c":22},{"r":105,"c":26},{"r":105,"c":30},{"r":105,"c":36},{"r":105,"c":39},{"r":105,"c":45},{"r":105,"c":49},{"r":106,"c":3},{"r":106,"c":8},{"r":106,"c":15},{"r":106,"c":17},{"r":106,"c":24},{"r":106,"c":27},{"r":106,"c":33},{"r":106,"c":35},{"r":106,"c":41},{"r":106,"c":43},{"r":106,"c":46},{"r":106,"c":51},{"r":106,"c":53},{"r":107,"c":0},{"r":107,"c":5},{"r":107,"c":7},{"r":107,"c":10},{"r":107,"c":14},{"r":107,"c":21},{"r":107,"c":29},{"r":107,"c":32},{"r":107,"c":37},{"r":107,"c":40},{"r":107,"c":44},{"r":107,"c":48},{"r":107,"c":52}]
},
"concat":[
{"title":"Ground truth network","width":524,"height":436,"layer":[
{"data":{"values":[{"x0":0,"x1":54,"y0":0,"y1":54,"v":0.878},{"x0":54,"x1":108,"y0":54,"y1":108,"v":0.878},{"x0":54,"x1":108,"y0":0,"y1":54,"v":0.235},{"x0":0,"x1":54,"y0":54,"y1":108,"v":0.235}]},"mark":"rect","encoding":{"x":{"field":"x0","type":"quantitative","scale":{"domain":[0,108],"nice":false},"axis":null},"x2":{"field":"x1"},"y":{"field":"y0","type":"quantitative","scale":{"domain":[108,0],"nice":false},"axis":null},"y2":{"field":"y1"},"color":{"field":"v","type":"quantitative","scale":{"domain":[0,1],"range":["#000000","#ffffff"],"interpolate":"rgb"},"legend":null}}}]},
{"title":"Pruned network","width":524,"height":436,"layer":[
{"data":{"values":[{"x0":0,"x1":54,"y0":0,"y1":54,"v":0.878},{"x0":54,"x1":108,"y0":54,"y1":108,"v":0.878},{"x0":54,"x1":108,"y0":0,"y1":54,"v":0.235},{"x0":0,"x1":54,"y0":54,"y1":108,"v":0.235}]},"mark":"rect","encoding":{"x":{"field":"x0","type":"quantitative","scale":{"domain":[0,108],"nice":false},"axis":null},"x2":{"field":"x1"},"y":{"field":"y0","type":"quantitative","scale":{"domain":[108,0],"nice":false},"axis":null},"y2":{"field":"y1"},"color":{"field":"v","type":"quantitative","scale":{"domain":[0,1],"range":["#000000","#ffffff"],"interpolate":"rgb"},"legend":null}}},
{"data":{"name":"lightCells"},"mark":{"type":"rect","color":"#e0e0e0"},"encoding":{"x":{"field":"c","bin":{"step":1,"extent":[0,108]},"type":"quantitative","scale":{"domain":[0,108],"nice":false},"axis":null},"y":{"field":"r","bin":{"step":1,"extent":[0,108]},"type":"quantitative","scale":{"domain":[108,0],"nice":false},"axis":null}}}]},
{"title":"Noisy pruned network","width":524,"height":436,"layer":[
{"data":{"values":[{"x0":0,"x1":54,"y0":0,"y1":54,"v":0.71},{"x0":54,"x1":108,"y0":54,"y1":108,"v":0.71},{"x0":54,"x1":108,"y0":0,"y1":54,"v":0.5},{"x0":0,"x1":54,"y0":54,"y1":108,"v":0.5}]},"mark":"rect","encoding":{"x":{"field":"x0","type":"quantitative","scale":{"domain":[0,108],"nice":false},"axis":null},"x2":{"field":"x1"},"y":{"field":"y0","type":"quantitative","scale":{"domain":[108,0],"nice":false},"axis":null},"y2":{"field":"y1"},"color":{"field":"v","type":"quantitative","scale":{"domain":[0,1],"range":["#000000","#ffffff"],"interpolate":"rgb"},"legend":null}}},
{"data":{"name":"lightCells"},"mark":{"type":"rect","color":"#aaaaaa"},"encoding":{"x":{"field":"c","bin":{"step":1,"extent":[0,108]},"type":"quantitative","scale":{"domain":[0,108],"nice":false},"axis":null},"y":{"field":"r","bin":{"step":1,"extent":[0,108]},"type":"quantitative","scale":{"domain":[108,0],"nice":false},"axis":null}}},
{"data":{"name":"spots"},"mark":{"type":"rect","color":"#444444"},"encoding":{"x":{"field":"c","bin":{"step":1,"extent":[0,108]},"type":"quantitative","scale":{"domain":[0,108],"nice":false},"axis":null},"y":{"field":"r","bin":{"step":1,"extent":[0,108]},"type":"quantitative","scale":{"domain":[108,0],"nice":false},"axis":null}}}]},
{"title":"Iterative FT (F1: 0.67, MSE: 0.49, # iter: 143)","width":524,"height":436,"layer":[
{"data":{"values":[{"x0":0,"x1":54,"y0":0,"y1":54,"v":0.74},{"x0":54,"x1":108,"y0":54,"y1":108,"v":0.74},{"x0":54,"x1":108,"y0":0,"y1":54,"v":0.67},{"x0":0,"x1":54,"y0":54,"y1":108,"v":0.67},{"x0":69,"x1":73,"y0":11,"y1":15,"v":0.55},{"x0":58,"x1":61,"y0":3,"y1":7,"v":0.6},{"x0":63,"x1":66,"y0":10,"y1":13,"v":0.6},{"x0":57,"x1":60,"y0":10,"y1":14,"v":0.6},{"x0":86,"x1":89,"y0":12,"y1":15,"v":0.6},{"x0":102,"x1":105,"y0":12,"y1":16,"v":0.62},{"x0":90,"x1":93,"y0":22,"y1":25,"v":0.57},{"x0":81,"x1":85,"y0":25,"y1":28,"v":0.58},{"x0":86,"x1":90,"y0":26,"y1":28,"v":0.6},{"x0":71,"x1":74,"y0":21,"y1":26,"v":0.6},{"x0":65,"x1":68,"y0":29,"y1":32,"v":0.58},{"x0":63,"x1":67,"y0":39,"y1":44,"v":0.58},{"x0":58,"x1":62,"y0":39,"y1":42,"v":0.62},{"x0":95,"x1":99,"y0":39,"y1":43,"v":0.58},{"x0":90,"x1":93,"y0":37,"y1":41,"v":0.6},{"x0":93,"x1":98,"y0":49,"y1":52,"v":0.57},{"x0":80,"x1":83,"y0":49,"y1":52,"v":0.6},{"x0":103,"x1":106,"y0":44,"y1":48,"v":0.62},{"x0":6,"x1":9,"y0":64,"y1":68,"v":0.57},{"x0":9,"x1":12,"y0":57,"y1":60,"v":0.6},{"x0":2,"x1":5,"y0":61,"y1":64,"v":0.6},{"x0":25,"x1":30,"y0":65,"y1":68,"v":0.58},{"x0":17,"x1":20,"y0":59,"y1":61,"v":0.6},{"x0":19,"x1":23,"y0":86,"y1":91,"v":0.58},{"x0":9,"x1":12,"y0":88,"y1":91,"v":0.58},{"x0":24,"x1":28,"y0":82,"y1":87,"v":0.58},{"x0":38,"x1":41,"y0":84,"y1":87,"v":0.58},{"x0":47,"x1":49,"y0":84,"y1":86,"v":0.58},{"x0":41,"x1":44,"y0":95,"y1":100,"v":0.58},{"x0":18,"x1":21,"y0":94,"y1":97,"v":0.6},{"x0":3,"x1":6,"y0":99,"y1":102,"v":0.6},{"x0":37,"x1":41,"y0":101,"y1":104,"v":0.58},{"x0":32,"x1":36,"y0":102,"y1":105,"v":0.6},{"x0":1,"x1":4,"y0":105,"y1":107,"v":0.6},{"x0":25,"x1":28,"y0":106,"y1":108,"v":0.6}]},"mark":"rect","encoding":{"x":{"field":"x0","type":"quantitative","scale":{"domain":[0,108],"nice":false},"axis":null},"x2":{"field":"x1"},"y":{"field":"y0","type":"quantitative","scale":{"domain":[108,0],"nice":false},"axis":null},"y2":{"field":"y1"},"color":{"field":"v","type":"quantitative","scale":{"domain":[0,1],"range":["#000000","#ffffff"],"interpolate":"rgb"},"legend":null}}},
{"data":{"name":"lightCells"},"mark":{"type":"rect","color":"#bdbdbd"},"encoding":{"x":{"field":"c","bin":{"step":1,"extent":[0,108]},"type":"quantitative","scale":{"domain":[0,108],"nice":false},"axis":null},"y":{"field":"r","bin":{"step":1,"extent":[0,108]},"type":"quantitative","scale":{"domain":[108,0],"nice":false},"axis":null}}},
{"data":{"name":"iterLight"},"mark":{"type":"rect","color":"#d6d6d6"},"encoding":{"x":{"field":"c","bin":{"step":1,"extent":[0,108]},"type":"quantitative","scale":{"domain":[0,108],"nice":false},"axis":null},"y":{"field":"r","bin":{"step":1,"extent":[0,108]},"type":"quantitative","scale":{"domain":[108,0],"nice":false},"axis":null}}},
{"data":{"name":"iterDark"},"mark":{"type":"rect","color":"#333333"},"encoding":{"x":{"field":"c","bin":{"step":1,"extent":[0,108]},"type":"quantitative","scale":{"domain":[0,108],"nice":false},"axis":null},"y":{"field":"r","bin":{"step":1,"extent":[0,108]},"type":"quantitative","scale":{"domain":[108,0],"nice":false},"axis":null}}}]},
{"title":"Real thresh. (F1: 0.83, MSE: 0.16)","width":524,"height":436,"layer":[
{"data":{"values":[{"x0":0,"x1":54,"y0":0,"y1":54,"v":0.72},{"x0":54,"x1":108,"y0":54,"y1":108,"v":0.72},{"x0":54,"x1":108,"y0":0,"y1":54,"v":0.49},{"x0":0,"x1":54,"y0":54,"y1":108,"v":0.49}]},"mark":"rect","encoding":{"x":{"field":"x0","type":"quantitative","scale":{"domain":[0,108],"nice":false},"axis":null},"x2":{"field":"x1"},"y":{"field":"y0","type":"quantitative","scale":{"domain":[108,0],"nice":false},"axis":null},"y2":{"field":"y1"},"color":{"field":"v","type":"quantitative","scale":{"domain":[0,1],"range":["#000000","#ffffff"],"interpolate":"rgb"},"legend":null}}},
{"data":{"name":"lightCells"},"mark":{"type":"rect","color":"#a8a8a8"},"encoding":{"x":{"field":"c","bin":{"step":1,"extent":[0,108]},"type":"quantitative","scale":{"domain":[0,108],"nice":false},"axis":null},"y":{"field":"r","bin":{"step":1,"extent":[0,108]},"type":"quantitative","scale":{"domain":[108,0],"nice":false},"axis":null}}},
{"data":{"name":"spots"},"mark":{"type":"rect","color":"#444444"},"encoding":{"x":{"field":"c","bin":{"step":1,"extent":[0,108]},"type":"quantitative","scale":{"domain":[0,108],"nice":false},"axis":null},"y":{"field":"r","bin":{"step":1,"extent":[0,108]},"type":"quantitative","scale":{"domain":[108,0],"nice":false},"axis":null}}},
{"data":{"name":"realLight"},"mark":{"type":"rect","color":"#d8d8d8"},"encoding":{"x":{"field":"c","bin":{"step":1,"extent":[0,108]},"type":"quantitative","scale":{"domain":[0,108],"nice":false},"axis":null},"y":{"field":"r","bin":{"step":1,"extent":[0,108]},"type":"quantitative","scale":{"domain":[108,0],"nice":false},"axis":null}}},
{"data":{"name":"realDark"},"mark":{"type":"rect","color":"#989898"},"encoding":{"x":{"field":"c","bin":{"step":1,"extent":[0,108]},"type":"quantitative","scale":{"domain":[0,108],"nice":false},"axis":null},"y":{"field":"r","bin":{"step":1,"extent":[0,108]},"type":"quantitative","scale":{"domain":[108,0],"nice":false},"axis":null}}}]},
{"title":"Freq. thresh. (F1: 0.67, MSE: 0.15)","width":524,"height":436,"layer":[
{"data":{"values":[{"x0":0,"x1":54,"y0":0,"y1":54,"v":0.7},{"x0":54,"x1":108,"y0":54,"y1":108,"v":0.7},{"x0":54,"x1":108,"y0":0,"y1":54,"v":0.49},{"x0":0,"x1":54,"y0":54,"y1":108,"v":0.49}]},"mark":"rect","encoding":{"x":{"field":"x0","type":"quantitative","scale":{"domain":[0,108],"nice":false},"axis":null},"x2":{"field":"x1"},"y":{"field":"y0","type":"quantitative","scale":{"domain":[108,0],"nice":false},"axis":null},"y2":{"field":"y1"},"color":{"field":"v","type":"quantitative","scale":{"domain":[0,1],"range":["#000000","#ffffff"],"interpolate":"rgb"},"legend":null}}},
{"data":{"name":"lightCells"},"mark":{"type":"rect","color":"#a4a4a4"},"encoding":{"x":{"field":"c","bin":{"step":1,"extent":[0,108]},"type":"quantitative","scale":{"domain":[0,108],"nice":false},"axis":null},"y":{"field":"r","bin":{"step":1,"extent":[0,108]},"type":"quantitative","scale":{"domain":[108,0],"nice":false},"axis":null}}},
{"data":{"name":"spots"},"mark":{"type":"rect","color":"#444444"},"encoding":{"x":{"field":"c","bin":{"step":1,"extent":[0,108]},"type":"quantitative","scale":{"domain":[0,108],"nice":false},"axis":null},"y":{"field":"r","bin":{"step":1,"extent":[0,108]},"type":"quantitative","scale":{"domain":[108,0],"nice":false},"axis":null}}}]},
{"title":"LANS denoising (F1: 0.04, MSE: 0.49)","width":524,"height":436,"layer":[
{"data":{"values":[{"x0":0,"x1":108,"y0":0,"y1":108,"v":0.878}]},"mark":"rect","encoding":{"x":{"field":"x0","type":"quantitative","scale":{"domain":[0,108],"nice":false},"axis":null},"x2":{"field":"x1"},"y":{"field":"y0","type":"quantitative","scale":{"domain":[108,0],"nice":false},"axis":null},"y2":{"field":"y1"},"color":{"field":"v","type":"quantitative","scale":{"domain":[0,1],"range":["#000000","#ffffff"],"interpolate":"rgb"},"legend":null}}},
{"data":{"name":"lans"},"mark":{"type":"rect","color":"#3c3c3c"},"encoding":{"x":{"field":"c","bin":{"step":1,"extent":[0,108]},"type":"quantitative","scale":{"domain":[0,108],"nice":false},"axis":null},"y":{"field":"r","bin":{"step":1,"extent":[0,108]},"type":"quantitative","scale":{"domain":[108,0],"nice":false},"axis":null}}}]},
{"title":"Low rank reconst. (F1: 0.67, MSE: 0.04)","width":524,"height":436,"layer":[
{"data":{"values":[{"x0":0,"x1":54,"y0":0,"y1":54,"v":0.755},{"x0":54,"x1":108,"y0":54,"y1":108,"v":0.74},{"x0":54,"x1":108,"y0":0,"y1":54,"v":0.54},{"x0":0,"x1":54,"y0":54,"y1":108,"v":0.52},{"x0":38,"x1":39,"y0":0,"y1":54,"v":0.78},{"x0":32,"x1":33,"y0":0,"y1":54,"v":0.7},{"x0":19,"x1":20,"y0":0,"y1":54,"v":0.74},{"x0":26,"x1":28,"y0":0,"y1":54,"v":0.74},{"x0":8,"x1":9,"y0":0,"y1":54,"v":0.73},{"x0":0,"x1":54,"y0":10,"y1":11,"v":0.71},{"x0":0,"x1":54,"y0":5,"y1":6,"v":0.77},{"x0":0,"x1":54,"y0":31,"y1":32,"v":0.77},{"x0":0,"x1":54,"y0":42,"y1":43,"v":0.78},{"x0":71,"x1":72,"y0":0,"y1":54,"v":0.47},{"x0":78,"x1":79,"y0":0,"y1":54,"v":0.6},{"x0":97,"x1":98,"y0":0,"y1":54,"v":0.49},{"x0":67,"x1":68,"y0":0,"y1":54,"v":0.5},{"x0":57,"x1":62,"y0":0,"y1":54,"v":0.52},{"x0":54,"x1":108,"y0":11,"y1":12,"v":0.58},{"x0":54,"x1":108,"y0":18,"y1":19,"v":0.57},{"x0":54,"x1":108,"y0":24,"y1":25,"v":0.49},{"x0":54,"x1":108,"y0":32,"y1":33,"v":0.49},{"x0":54,"x1":108,"y0":42,"y1":43,"v":0.47},{"x0":54,"x1":108,"y0":48,"y1":49,"v":0.46},{"x0":54,"x1":108,"y0":10,"y1":11,"v":0.48},{"x0":11,"x1":12,"y0":54,"y1":108,"v":0.58},{"x0":45,"x1":46,"y0":54,"y1":108,"v":0.56},{"x0":26,"x1":27,"y0":54,"y1":108,"v":0.46},{"x0":0,"x1":54,"y0":59,"y1":60,"v":0.48},{"x0":0,"x1":54,"y0":63,"y1":64,"v":0.46},{"x0":0,"x1":54,"y0":69,"y1":70,"v":0.56},{"x0":0,"x1":54,"y0":71,"y1":72,"v":0.44},{"x0":0,"x1":54,"y0":78,"y1":79,"v":0.58},{"x0":78,"x1":79,"y0":54,"y1":108,"v":0.71},{"x0":97,"x1":98,"y0":54,"y1":108,"v":0.7},{"x0":54,"x1":56,"y0":54,"y1":108,"v":0.76},{"x0":61,"x1":62,"y0":54,"y1":108,"v":0.76},{"x0":54,"x1":108,"y0":59,"y1":60,"v":0.76},{"x0":54,"x1":108,"y0":63,"y1":64,"v":0.72},{"x0":54,"x1":108,"y0":78,"y1":79,"v":0.72},{"x0":97,"x1":98,"y0":42,"y1":43,"v":0.2},{"x0":97,"x1":98,"y0":48,"y1":49,"v":0.28},{"x0":97,"x1":98,"y0":5,"y1":6,"v":0.32},{"x0":78,"x1":79,"y0":5,"y1":6,"v":0.78},{"x0":78,"x1":79,"y0":15,"y1":16,"v":0.78},{"x0":97,"x1":98,"y0":63,"y1":64,"v":0.86},{"x0":97,"x1":98,"y0":78,"y1":79,"v":0.86}]},"mark":"rect","encoding":{"x":{"field":"x0","type":"quantitative","scale":{"domain":[0,108],"nice":false},"axis":null},"x2":{"field":"x1"},"y":{"field":"y0","type":"quantitative","scale":{"domain":[108,0],"nice":false},"axis":null},"y2":{"field":"y1"},"color":{"field":"v","type":"quantitative","scale":{"domain":[0,1],"range":["#000000","#ffffff"],"interpolate":"rgb"},"legend":null}}}]}
]}
